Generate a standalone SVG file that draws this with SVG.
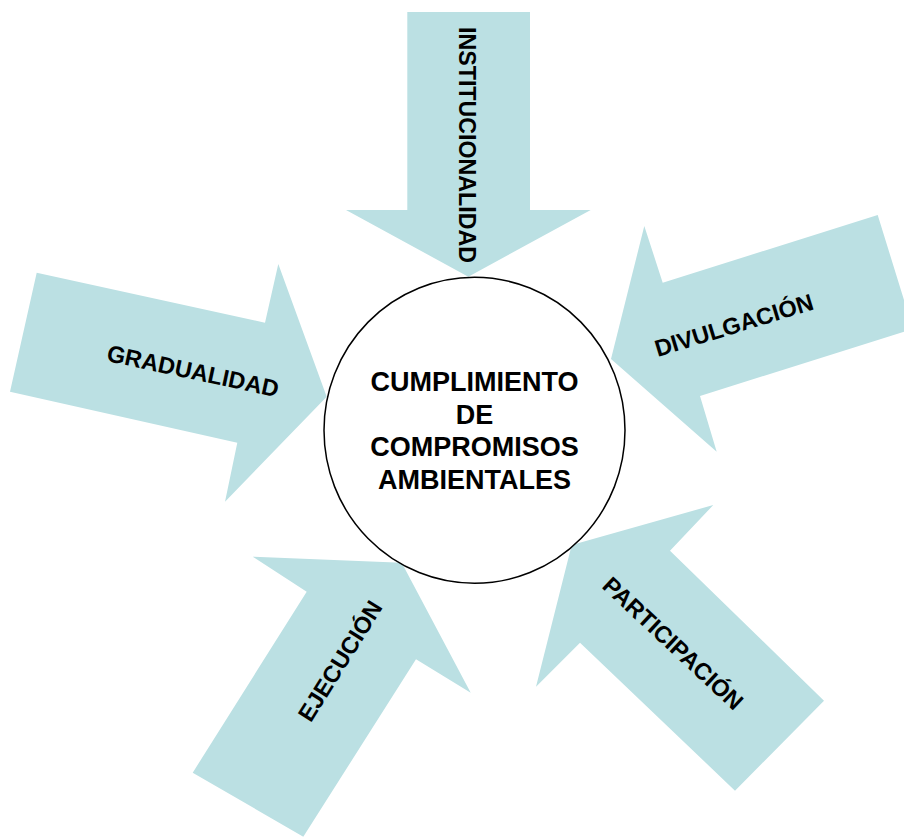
<svg xmlns="http://www.w3.org/2000/svg" width="904" height="838" viewBox="0 0 904 838">
<style>
.arrow{fill:#BBE0E3;stroke:none}
.lbl{font-family:"Liberation Sans",Arial,sans-serif;font-weight:bold;font-size:23.5px;fill:#000;text-anchor:middle}
.ctr{font-family:"Liberation Sans",Arial,sans-serif;font-weight:bold;font-size:27px;fill:#000;text-anchor:middle}
</style>
<rect width="904" height="838" fill="#fff"/>
<g id="connectors">
<g id="arrow-institucionalidad">
<polygon class="arrow" points="407.3,12 530,12 530,210 590.7,210 468.3,276.7 346,210 407.3,210"/>
<text class="lbl" style="font-size:24.5px" textLength="236" lengthAdjust="spacingAndGlyphs" transform="translate(458.8,145) rotate(90)">INSTITUCIONALIDAD</text>
</g>
<g id="arrow-gradualidad">
<polygon class="arrow" points="36.7,272.7 265,322.7 278.3,264 326.7,396.7 225,501.7 237.3,442.7 10,391.7"/>
<text class="lbl" transform="translate(191.3,379) rotate(12)">GRADUALIDAD</text>
</g>
<g id="arrow-divulgacion">
<polygon class="arrow" points="877.7,215 913,329 700,396 716.7,451.7 611,359 644.3,226 662.7,282.7"/>
<text class="lbl" transform="translate(736.3,333) rotate(-17)">DIVULGACIÓN</text>
</g>
<g id="arrow-ejecucion">
<polygon class="arrow" points="192.7,772.7 306.7,591.7 252.7,556.7 401.7,562.7 470.7,692.7 416,659.3 303.3,836.7"/>
<text class="lbl" transform="translate(347,665.2) rotate(-58)">EJECUCIÓN</text>
</g>
<g id="arrow-participacion">
<polygon class="arrow" points="824,700.7 670,550.7 713.3,505 571.7,545 536,686.7 580,642.7 735,790.7"/>
<text class="lbl" transform="translate(667.5,649.4) rotate(43)">PARTICIPACIÓN</text>
</g>
</g>
<g id="center">
<ellipse cx="474.5" cy="430.3" rx="150.5" ry="153" fill="#fff" stroke="#000" stroke-width="1.5"/>
<text class="ctr" x="474.5" y="391">CUMPLIMIENTO</text>
<text class="ctr" x="474.5" y="423.5">DE</text>
<text class="ctr" x="474.5" y="456">COMPROMISOS</text>
<text class="ctr" x="474.5" y="488.5">AMBIENTALES</text>
</g>
</svg>
